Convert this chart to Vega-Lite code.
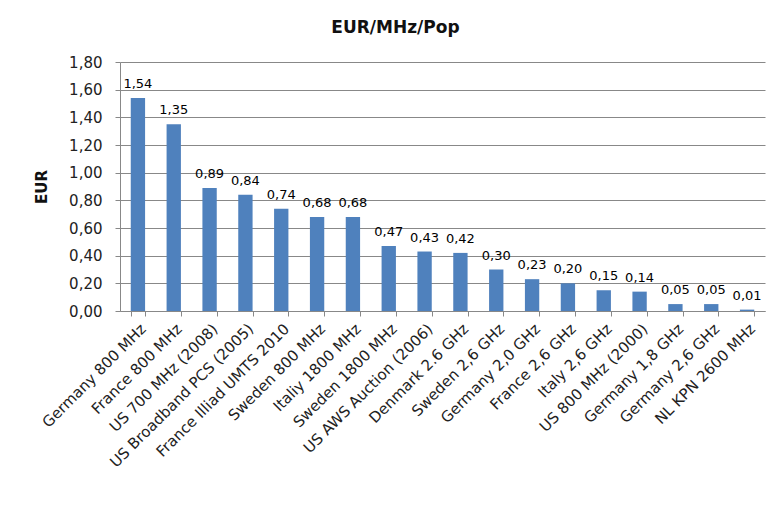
{
  "$schema": "https://vega.github.io/schema/vega-lite/v6.json",
  "width": 645,
  "height": 249,
  "autosize": {"type": "none"},
  "padding": {"left": 120, "top": 62, "right": 8, "bottom": 201},
  "background": "white",
  "config": {
    "locale": {"number": {"decimal": ",", "thousands": ".", "grouping": [3], "currency": ["", " €"]}},
    "view": {"stroke": null},
    "font": "DejaVu Sans"
  },
  "title": {"text": "EUR/MHz/Pop", "fontSize": 17, "fontWeight": "bold", "font": "DejaVu Sans", "color": "#111", "offset": 18, "dx": -47},
  "data": {"values": [
    {"name": "Germany 800 MHz", "v": 1.54},
    {"name": "France 800 MHz", "v": 1.35},
    {"name": "US 700 MHz (2008)", "v": 0.89},
    {"name": "US Broadband PCS (2005)", "v": 0.84},
    {"name": "France Illiad  UMTS 2010", "v": 0.74},
    {"name": "Sweden 800 MHz", "v": 0.68},
    {"name": "Italiy  1800 MHz", "v": 0.68},
    {"name": "Sweden 1800 MHz", "v": 0.47},
    {"name": "US AWS Auction (2006)", "v": 0.43},
    {"name": "Denmark 2.6 GHz", "v": 0.42},
    {"name": "Sweden 2,6 GHz", "v": 0.30},
    {"name": "Germany 2,0 GHz", "v": 0.23},
    {"name": "France 2,6 GHz", "v": 0.20},
    {"name": "Italy 2,6 GHz", "v": 0.15},
    {"name": "US 800 MHz  (2000)", "v": 0.14},
    {"name": "Germany 1,8 GHz", "v": 0.05},
    {"name": "Germany 2,6 GHz", "v": 0.05},
    {"name": "NL KPN 2600  MHz", "v": 0.01}
  ]},
  "encoding": {
    "x": {
      "field": "name", "type": "nominal", "sort": null,
      "scale": {"paddingInner": 0.6, "paddingOuter": 0.3},
      "axis": {
        "title": null, "labelAngle": -45, "labelFontSize": 15, "labelColor": "#222",
        "tickBand": "extent", "tickSize": 5, "tickColor": "#888", "domainColor": "#888",
        "labelPadding": 5, "labelLimit": 300
      }
    },
    "y": {
      "field": "v", "type": "quantitative",
      "scale": {"domain": [0, 1.8], "nice": false},
      "axis": {
        "title": "EUR", "titleFontSize": 15, "titleFontWeight": "bold", "titleColor": "#111",
        "titlePadding": 19, "format": ".2f", "values": [0, 0.2, 0.4, 0.6, 0.8, 1.0, 1.2, 1.4, 1.6, 1.8],
        "labelFontSize": 15, "labelColor": "#222", "tickSize": 5, "tickColor": "#888",
        "domainColor": "#888", "gridColor": "#888", "labelPadding": 13
      }
    }
  },
  "layer": [
    {"mark": {"type": "bar", "color": "#4F81BD"}},
    {"mark": {"type": "text", "dy": -14, "fontSize": 13, "color": "#000"},
     "encoding": {"text": {"field": "v", "type": "quantitative", "format": ".2f"}}}
  ]
}
